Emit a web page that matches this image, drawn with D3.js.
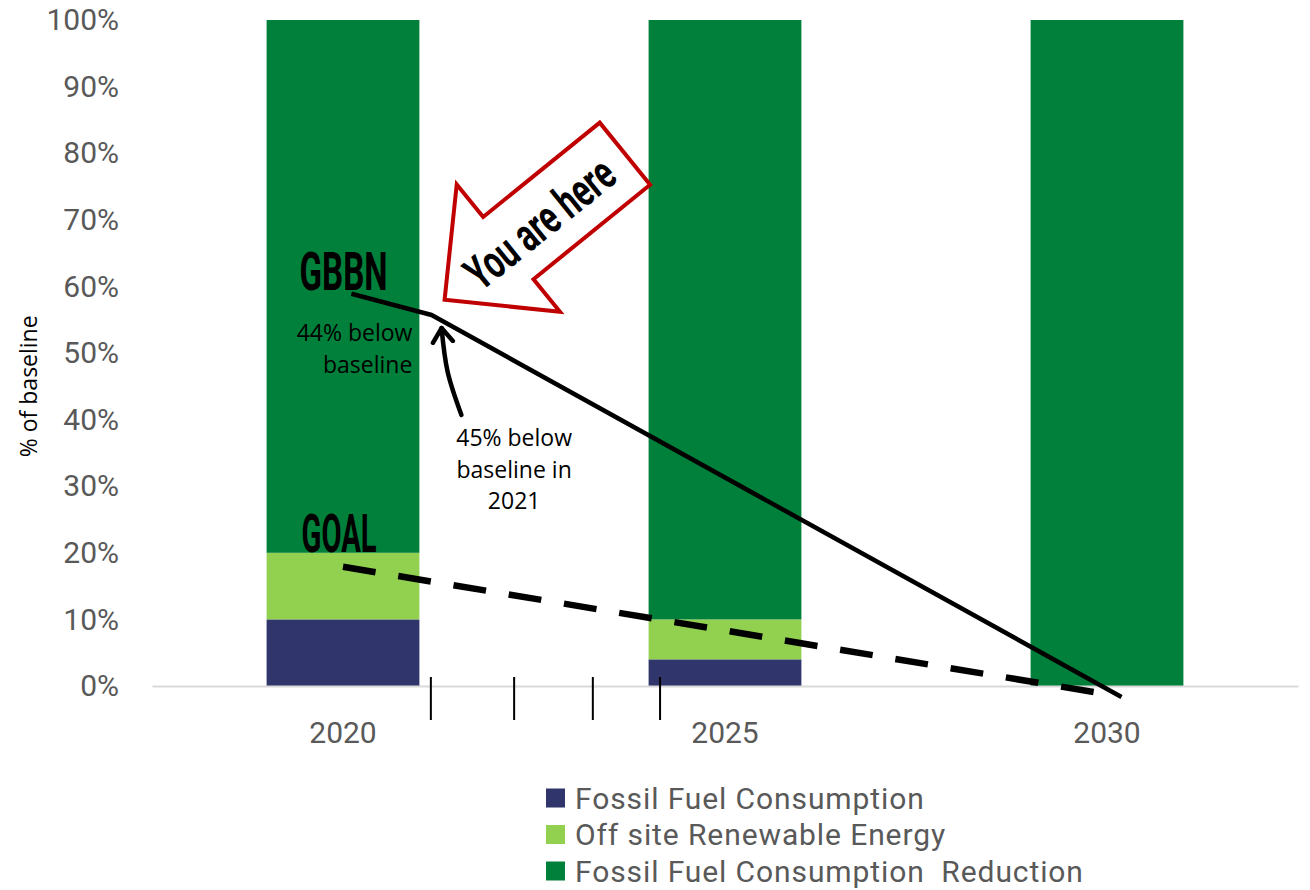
<!DOCTYPE html>
<html>
<head>
<meta charset="utf-8">
<script src="https://cdn.jsdelivr.net/npm/d3@7"></script>
<style>
  body { margin: 0; background: #fff; }
  svg { display: block; }
</style>
</head>
<body>
<svg width="1310" height="890"></svg>
<script>
// chart data (share of baseline)
let years = ['2020', '2025', '2030'];
let fossil = [0.10, 0.04, 0.00];
let offsite = [0.10, 0.06, 0.00];
let reduction = [0.80, 0.90, 1.00];
let seriesNames = ['Fossil Fuel Consumption', 'Off site Renewable Energy', 'Fossil Fuel Consumption  Reduction'];
let yTicks = [0, 0.1, 0.2, 0.3, 0.4, 0.5, 0.6, 0.7, 0.8, 0.9, 1.0];

// hand drawn annotations, in [year, share] units
let gbbnLine = [[2020.11, 0.589], [2021.16, 0.557], [2030.19, -0.0165]];
let goalLine = [[2020.0, 0.179], [2029.9, -0.0105]];
let yearMarks = [2021.15, 2022.24, 2023.27, 2024.15];
let curvedArrow = [[2021.55, 0.407], [2021.37, 0.4715], [2021.29, 0.5375]];

let colors = ['#30356b', '#92d050', '#00803a'];

let svg = d3.select('svg');
let padding = {t: 20, r: 12, b: 204, l: 152};
let svgWidth = +svg.attr('width');
let svgHeight = +svg.attr('height');

let x = d3.scaleBand()
    .domain(years)
    .range([padding.l, svgWidth - padding.r])
    .paddingInner(0.6)
    .paddingOuter(0.3);

let y = d3.scaleLinear()
    .domain([0, 1])
    .range([svgHeight - padding.b, padding.t]);

let bw = x.bandwidth();
// year scale for the annotation layer, anchored on bar centres
let yr = d3.scaleLinear()
    .domain([2020, 2030])
    .range([x('2020') + bw / 2, x('2030') + bw / 2]);

// stacked bars
let rows = years.map((yy, i) => ({year: yy, fossil: fossil[i], offsite: offsite[i], reduction: reduction[i]}));
let stack = d3.stack().keys(['fossil', 'offsite', 'reduction'])(rows);

svg.append('g').selectAll('g')
    .data(stack)
    .join('g')
    .attr('fill', (d, i) => colors[i])
    .selectAll('rect')
    .data(d => d)
    .join('rect')
    .attr('x', d => x(d.data.year))
    .attr('y', d => y(d[1]))
    .attr('width', bw)
    .attr('height', d => y(d[0]) - y(d[1]));

// y axis
let yAxis = svg.append('g')
    .attr('transform', 'translate(' + padding.l + ',0)')
    .call(d3.axisLeft(y).tickValues(yTicks).tickFormat(d3.format('.0%')).tickSize(0).tickPadding(33));
yAxis.select('.domain').remove();
yAxis.selectAll('text')
    .attr('font-family', 'Roboto, sans-serif')
    .attr('font-size', 30)
    .attr('fill', '#595959');

// x axis
let xAxis = svg.append('g')
    .attr('transform', 'translate(0,' + y(0) + ')')
    .call(d3.axisBottom(x).tickSize(0).tickSizeOuter(0).tickPadding(36));
xAxis.select('.domain')
    .attr('stroke', '#d9d9d9')
    .attr('stroke-width', 2);
xAxis.selectAll('text')
    .attr('font-family', 'Roboto, sans-serif')
    .attr('font-size', 30)
    .attr('fill', '#595959');

// y axis title
svg.append('text')
    .attr('transform', 'translate(' + 37 + ',' + y(0.45) + ') rotate(-90)')
    .attr('text-anchor', 'middle')
    .attr('font-family', '"Open Sans", sans-serif')
    .attr('font-size', 23)
    .attr('fill', '#000')
    .text('% of baseline');

// small year marks under the axis
svg.append('g').selectAll('line')
    .data(yearMarks)
    .join('line')
    .attr('x1', d => yr(d))
    .attr('x2', d => yr(d))
    .attr('y1', y(0) - 9)
    .attr('y2', y(0) + 34)
    .attr('stroke', '#000')
    .attr('stroke-width', 2);

let line = d3.line().x(d => yr(d[0])).y(d => y(d[1]));

// goal line (dashed)
svg.append('path')
    .datum(goalLine)
    .attr('d', line)
    .attr('fill', 'none')
    .attr('stroke', '#000')
    .attr('stroke-width', 6.5)
    .attr('stroke-dasharray', '33,23');

// GBBN line
svg.append('path')
    .datum(gbbnLine)
    .attr('d', line)
    .attr('fill', 'none')
    .attr('stroke', '#000')
    .attr('stroke-width', 4.5)
    .attr('stroke-linejoin', 'round');

// curved pointer arrow
svg.append('defs').append('marker')
    .attr('id', 'vhead')
    .attr('markerUnits', 'userSpaceOnUse')
    .attr('viewBox', '-16 -13 20 26')
    .attr('markerWidth', 20)
    .attr('markerHeight', 26)
    .attr('refX', 0)
    .attr('refY', 0)
    .attr('orient', 'auto')
    .append('path')
    .attr('d', 'M-14,-10L0,0L-14,10')
    .attr('fill', 'none')
    .attr('stroke', '#000')
    .attr('stroke-width', 4.5)
    .attr('stroke-linecap', 'round')
    .attr('stroke-linejoin', 'round');

svg.append('path')
    .datum(curvedArrow)
    .attr('d', d3.line().x(d => yr(d[0])).y(d => y(d[1])).curve(d3.curveNatural))
    .attr('fill', 'none')
    .attr('stroke', '#000')
    .attr('stroke-width', 4.5)
    .attr('stroke-linecap', 'round')
    .attr('marker-end', 'url(#vhead)');

// "You are here" block arrow
let tipX = yr(2021.33), tipY = y(0.58);
let arrowAngle = -39;
let arrowLen = 232, headLen = 82, headW = 164, shaftW = 80;
let arrowShape = [[0, 0], [headLen, -headW / 2], [headLen, -shaftW / 2], [arrowLen, -shaftW / 2],
    [arrowLen, shaftW / 2], [headLen, shaftW / 2], [headLen, headW / 2]];
let callout = svg.append('g')
    .attr('transform', 'translate(' + [tipX, tipY] + ') rotate(' + arrowAngle + ')');
callout.append('path')
    .attr('d', d3.line()(arrowShape) + 'Z')
    .attr('fill', '#fff')
    .attr('stroke', '#c00000')
    .attr('stroke-width', 4)
    .attr('stroke-linejoin', 'miter');
callout.append('text')
    .attr('x', 122)
    .attr('y', 0)
    .attr('dy', '0.36em')
    .attr('text-anchor', 'middle')
    .attr('font-family', 'Roboto, sans-serif')
    .attr('font-weight', 'bold')
    .attr('font-size', 47)
    .attr('textLength', 178)
    .attr('lengthAdjust', 'spacingAndGlyphs')
    .attr('fill', '#000')
    .text('You are here');

// labels
function condensed(txt, px, py, len) {
    svg.append('text')
        .attr('x', px)
        .attr('y', py)
        .attr('font-family', 'Roboto, sans-serif')
        .attr('font-weight', 'bold')
        .attr('font-size', 53)
        .attr('textLength', len)
        .attr('lengthAdjust', 'spacingAndGlyphs')
        .attr('fill', '#000')
        .text(txt);
}
condensed('GBBN', x('2020') + 33, y(0.595), 88);
condensed('GOAL', x('2020') + 35, y(0.201), 75);

function noteLines(lines, px, py, anchor) {
    let t = svg.append('text')
        .attr('font-family', '"Open Sans", sans-serif')
        .attr('font-size', 23)
        .attr('fill', '#000')
        .attr('text-anchor', anchor);
    lines.forEach((s, i) => {
        t.append('tspan')
            .attr('x', px)
            .attr('y', py + i * 31.5)
            .attr('dy', '0.35em')
            .text(s);
    });
}
noteLines(['44% below', 'baseline'], x('2020') + bw - 7, y(0.53), 'end');
noteLines(['45% below', 'baseline in', '2021'], yr(2022.24), y(0.372), 'middle');

// legend
let legend = svg.append('g')
    .attr('transform', 'translate(546,798)');
let items = legend.selectAll('g')
    .data(seriesNames)
    .join('g')
    .attr('transform', (d, i) => 'translate(0,' + i * 36.5 + ')');
items.append('rect')
    .attr('x', 0)
    .attr('y', -9.5)
    .attr('width', 19)
    .attr('height', 19)
    .attr('fill', (d, i) => colors[i]);
items.append('text')
    .attr('x', 29)
    .attr('y', 0)
    .attr('dy', '0.36em')
    .attr('font-family', 'Roboto, sans-serif')
    .attr('font-size', 30)
    .attr('fill', '#595959')
    .attr('letter-spacing', 0.9)
    .style('white-space', 'pre')
    .text(d => d);
</script>
</body>
</html>
